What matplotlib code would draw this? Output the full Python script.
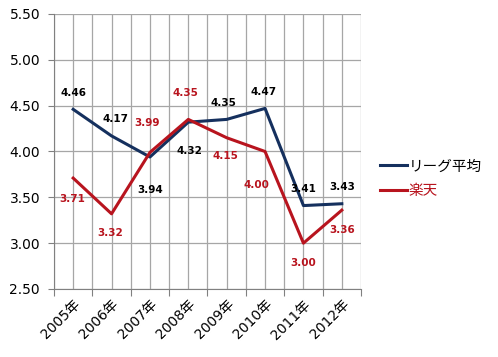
import matplotlib.pyplot as plt
import numpy as np

plt.rcParams['font.family'] = ['DejaVu Sans', 'Noto Sans CJK JP']

years = ['2005年', '2006年', '2007年', '2008年', '2009年', '2010年', '2011年', '2012年']
league = [4.46, 4.17, 3.94, 4.32, 4.35, 4.47, 3.41, 3.43]
rakuten = [3.71, 3.32, 3.99, 4.35, 4.15, 4.00, 3.00, 3.36]

navy = '#15305E'
red = '#B8141E'

# label offsets in points (dx, dy)
league_off = [(0, 12), (3, 12), (0, -24), (1, -21), (-2, 12), (-1, 12), (0, 12), (0, 12)]
rakuten_off = [(-1, -15), (-1, -14), (-2, 21), (-2, 19), (-1, -13), (-6, -24), (0, -14), (0, -14)]

fig = plt.figure(figsize=(4.98, 3.57), dpi=100)
ax = fig.add_axes([0.1084, 0.1905, 0.6165, 0.7703])

x = np.arange(len(years))
ax.plot(x, league, color=navy, lw=2.2, label='リーグ平均', zorder=3)
ax.plot(x, rakuten, color=red, lw=2.2, label='楽天', zorder=3)

for i in range(len(x)):
    ax.annotate('%.2f' % league[i], (x[i], league[i]), xytext=league_off[i],
                textcoords='offset points', ha='center', va='center',
                fontsize=7.5, fontweight='bold', color='black')
    ax.annotate('%.2f' % rakuten[i], (x[i], rakuten[i]), xytext=rakuten_off[i],
                textcoords='offset points', ha='center', va='center',
                fontsize=7.5, fontweight='bold', color=red)

ax.set_xlim(-0.5, len(years) - 0.5)
ax.set_ylim(2.5, 5.5)
ax.set_yticks(np.arange(2.5, 5.51, 0.5))
ax.set_yticklabels(['%.2f' % v for v in np.arange(2.5, 5.51, 0.5)], fontsize=10)

ax.set_xticks(np.arange(-0.5, len(years), 1.0))
ax.set_xticklabels([])
ax.set_xticks(x, minor=True)
ax.set_xticklabels(years, minor=True, rotation=45, ha='right', rotation_mode='anchor', fontsize=10)
ax.tick_params(axis='x', which='major', length=5, color='#808080')
ax.tick_params(axis='x', which='minor', length=0, pad=6)
ax.tick_params(axis='y', length=4, color='#808080', pad=6)

ax.grid(True, which='both', color='#A6A6A6', lw=0.9, zorder=0)
for s in ['top', 'right']:
    ax.spines[s].set_visible(False)
for s in ['left', 'bottom']:
    ax.spines[s].set_color('#808080')

ax.legend(loc='center left', bbox_to_anchor=(1.02, 0.40), frameon=False,
          handlelength=1.8, handletextpad=0.15, labelspacing=0.75, labelcolor=['black', red],
          prop={'family': ['Noto Sans CJK JP'], 'size': 10.5})

fig.savefig('out.png', dpi=100)
